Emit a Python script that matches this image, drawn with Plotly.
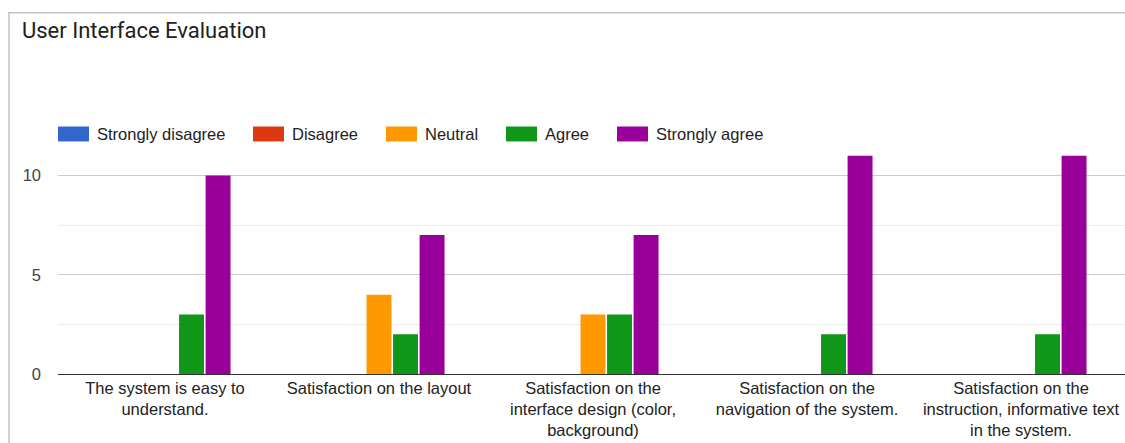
import plotly.graph_objects as go

# ---- data ----
questions = [
    "The system is easy to<br>understand.",
    "Satisfaction on the layout",
    "Satisfaction on the<br>interface design (color,<br>background)",
    "Satisfaction on the<br>navigation of the system.",
    "Satisfaction on the<br>instruction, informative text<br>in the system.",
]
series_names = ["Strongly disagree", "Disagree", "Neutral", "Agree", "Strongly agree"]
strongly_disagree = [0, 0, 0, 0, 0]
disagree = [0, 0, 0, 0, 0]
neutral = [0, 4, 3, 0, 0]
agree = [3, 2, 3, 2, 2]
strongly_agree = [10, 7, 7, 11, 11]
series_values = [strongly_disagree, disagree, neutral, agree, strongly_agree]
colors = ["#3366cc", "#dc3912", "#ff9900", "#109618", "#990099"]
y_ticks = [0, 5, 10]
y_minor = [2.5, 7.5, 12.5]

# ---- layout geometry (pixels) ----
W, H = 1125, 443
PL, PT, PB = 58, 125.5, 374.3
PR = W
pw, ph = PR - PL, PB - PT

def px(x):
    return (x - PL) / pw

def py(y):
    return (PB - y) / ph

FONT = "Arial, 'Liberation Sans', sans-serif"
FS = 16.5

fig = go.Figure()
for name, vals, col in zip(series_names, series_values, colors):
    fig.add_trace(go.Bar(
        x=questions, y=vals, name=name,
        marker=dict(color=col, line=dict(width=0)),
        showlegend=False,
    ))

# manual legend (Google-style wide swatches)
legend_swatch_x = [58, 253, 386, 506, 617]
shapes = []
annotations = []
for sx, name, col in zip(legend_swatch_x, series_names, colors):
    shapes.append(dict(type="rect", xref="paper", yref="paper",
                       x0=px(sx), x1=px(sx + 31), y0=py(141), y1=py(126),
                       fillcolor=col, line=dict(width=0), layer="above"))
    annotations.append(dict(xref="paper", yref="paper", x=px(sx + 37), y=py(133.5),
                            text=name, showarrow=False, xanchor="left", yanchor="middle",
                            font=dict(family=FONT, size=FS, color="#222222")))

# card border
shapes.append(dict(type="rect", xref="paper", yref="paper",
                   x0=px(9), x1=px(1135), y0=py(460), y1=py(12),
                   line=dict(color="#c4c4c4", width=1.5), fillcolor="rgba(0,0,0,0)",
                   layer="below"))

# title
annotations.append(dict(xref="paper", yref="paper", x=px(20), y=py(29.5),
                        text="User Interface Evaluation", showarrow=False,
                        xanchor="left", yanchor="middle",
                        font=dict(family="Roboto, sans-serif", size=22, color="#212121")))

fig.update_layout(
    width=W, height=H,
    margin=dict(l=PL, r=0, t=PT, b=H - PB, pad=0),
    paper_bgcolor="white", plot_bgcolor="white",
    barmode="group", bargap=0.38, bargroupgap=0.06,
    shapes=shapes, annotations=annotations,
    font=dict(family=FONT, size=FS, color="#222222"),
)
fig.update_xaxes(
    type="category", range=[-0.5, -0.5 + pw / 214.0],
    showgrid=False, showline=False, ticks="", zeroline=False,
    ticklabelstandoff=2,
    tickfont=dict(family=FONT, size=FS, color="#222222"),
    fixedrange=True,
)
fig.update_yaxes(
    range=[0, 12.5], tickvals=y_ticks, ticktext=[str(v) for v in y_ticks],
    showgrid=True, gridcolor="#cccccc", gridwidth=1,
    minor=dict(tickvals=y_minor, showgrid=True, gridcolor="#ebebeb", gridwidth=1, ticks=""),
    zeroline=True, zerolinecolor="#333333", zerolinewidth=1,
    showline=False, ticks="", ticklabelstandoff=16,
    tickfont=dict(family=FONT, size=FS, color="#444444"),
    fixedrange=True,
)

fig.write_html("out.html")
